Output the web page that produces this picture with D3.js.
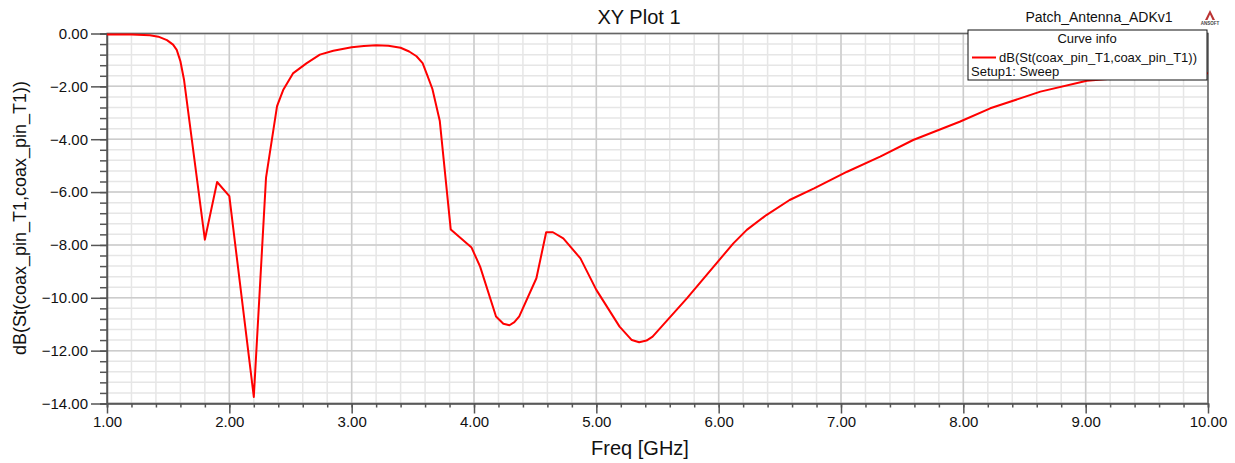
<!DOCTYPE html>
<html><head><meta charset="utf-8">
<script src="https://cdn.jsdelivr.net/npm/d3@7"></script>
<style>body{margin:0;background:#fff}svg{display:block;font-family:"Liberation Sans",Arial,sans-serif}</style>
</head><body><svg id="c" width="1235" height="463"></svg>
<script>
const freq = [1.0,1.2,1.35,1.42,1.49,1.54,1.57,1.6,1.63,1.8,1.9,2.0,2.2,2.3,2.39,2.44,2.52,2.63,2.74,2.85,3.0,3.1,3.2,3.3,3.4,3.47,3.53,3.58,3.62,3.66,3.72,3.81,3.98,4.05,4.18,4.24,4.29,4.33,4.37,4.51,4.59,4.645,4.73,4.87,5.0,5.19,5.29,5.35,5.41,5.46,5.74,6.12,6.23,6.39,6.58,6.78,7.05,7.32,7.59,7.97,8.22,8.63,9.01,9.5,10.0];
const dB = [-0.04,-0.04,-0.07,-0.12,-0.25,-0.42,-0.62,-1.05,-1.76,-7.8,-5.62,-6.15,-13.75,-5.45,-2.75,-2.14,-1.51,-1.13,-0.8,-0.65,-0.52,-0.47,-0.44,-0.46,-0.54,-0.68,-0.86,-1.12,-1.6,-2.1,-3.3,-7.42,-8.1,-8.82,-10.71,-10.98,-11.04,-10.92,-10.7,-9.26,-7.52,-7.52,-7.75,-8.51,-9.7,-11.09,-11.6,-11.68,-11.62,-11.47,-10.02,-7.94,-7.43,-6.87,-6.3,-5.86,-5.23,-4.66,-4.03,-3.34,-2.83,-2.2,-1.79,-1.6,-1.5];
const xTicks = [1,2,3,4,5,6,7,8,9,10];
const yTicks = [0,-2,-4,-6,-8,-10,-12,-14];
const title = "XY Plot 1";
const projectName = "Patch_Antenna_ADKv1";
const xLabel = "Freq [GHz]";
const yLabel = "dB(St(coax_pin_T1,coax_pin_T1))";
const legendTitle = "Curve info";
const seriesName = "dB(St(coax_pin_T1,coax_pin_T1))";
const setupName = "Setup1: Sweep";

const svg = d3.select("#c");
const L = 107, R = 1208, T = 33.5, B = 403.5;
const x = d3.scaleLinear().domain([1,10]).range([L,R]);
const y = d3.scaleLinear().domain([-14,0]).range([B,T]);
const fmt = v => d3.format(".2f")(v).replace("-","\u2212");

// grid
const xMinor = d3.range(1,10.0001,0.2).map(v=>+v.toFixed(2));
const yMinor = d3.range(-14,0.0001,0.4).map(v=>+v.toFixed(2));
const g = svg.append("g");
g.selectAll(".vm").data(xMinor).join("line").attr("x1",d=>x(d)).attr("x2",d=>x(d)).attr("y1",T).attr("y2",B).attr("stroke","#e6e6e6").attr("stroke-width",1.5);
g.selectAll(".hm").data(yMinor).join("line").attr("y1",d=>y(d)).attr("y2",d=>y(d)).attr("x1",L).attr("x2",R).attr("stroke","#e6e6e6").attr("stroke-width",1.5);
g.selectAll(".vM").data(xTicks).join("line").attr("x1",d=>x(d)).attr("x2",d=>x(d)).attr("y1",T).attr("y2",B).attr("stroke","#cccccc").attr("stroke-width",1.5);
g.selectAll(".hM").data(yTicks).join("line").attr("y1",d=>y(d)).attr("y2",d=>y(d)).attr("x1",L).attr("x2",R).attr("stroke","#cccccc").attr("stroke-width",1.5);

// frame
svg.append("rect").attr("x",L).attr("y",T).attr("width",R-L).attr("height",B-T).attr("fill","none").attr("stroke","#666").attr("stroke-width",1.5);

// axes
const xAx = svg.append("g").attr("transform",`translate(0,${B})`)
  .call(d3.axisBottom(x).tickValues(xMinor).tickFormat("").tickSize(4));
xAx.select(".domain").attr("stroke","#555").attr("stroke-width",1.5);
xAx.selectAll(".tick line").attr("stroke","#555").attr("stroke-width",1.5);
const xAx2 = svg.append("g").attr("transform",`translate(0,${B})`)
  .call(d3.axisBottom(x).tickValues(xTicks).tickFormat(fmt).tickSize(10).tickPadding(4));
xAx2.select(".domain").remove();
xAx2.selectAll(".tick line").attr("stroke","#555").attr("stroke-width",1.5);
xAx2.selectAll("text").attr("font-size",15).attr("fill","#111").attr("font-family","Liberation Sans, Arial, sans-serif").attr("dy","0.75em").attr("y",12);

const yAx = svg.append("g").attr("transform",`translate(${L},0)`)
  .call(d3.axisLeft(y).tickValues(yMinor).tickFormat("").tickSize(7));
yAx.select(".domain").attr("stroke","#555").attr("stroke-width",1.5);
yAx.selectAll(".tick line").attr("stroke","#555").attr("stroke-width",1.5);
const yAx2 = svg.append("g").attr("transform",`translate(${L},0)`)
  .call(d3.axisLeft(y).tickValues(yTicks).tickFormat(fmt).tickSize(16).tickPadding(3));
yAx2.select(".domain").remove();
yAx2.selectAll(".tick line").attr("stroke","#555").attr("stroke-width",1.5);
yAx2.selectAll("text").attr("font-size",15).attr("fill","#111").attr("font-family","Liberation Sans, Arial, sans-serif");

// curve
const data = freq.map((f,i)=>[f,dB[i]]);
svg.append("path").datum(data).attr("fill","none").attr("stroke","#ff0000").attr("stroke-width",2).attr("stroke-linejoin","round")
  .attr("d", d3.line().x(d=>x(d[0])).y(d=>y(d[1])));

// titles
svg.append("text").attr("x",639).attr("y",24).attr("text-anchor","middle").attr("font-size",20).attr("fill","#111").text(title);
svg.append("text").attr("x",640).attr("y",455).attr("text-anchor","middle").attr("font-size",20).attr("fill","#111").text(xLabel);
svg.append("text").attr("transform","translate(26,218) rotate(-90)").attr("text-anchor","middle").attr("font-size",18).attr("fill","#111").text(yLabel);
svg.append("text").attr("x",1099).attr("y",22).attr("text-anchor","middle").attr("font-size",14).attr("fill","#111").text(projectName);

// logo
const lg = svg.append("g").attr("transform","translate(1210,10)");
lg.append("path").attr("d","M0,0 L-5,10 L-2.5,10 L0,4.5 L2.5,10 L5,10 Z").attr("fill","#b33");
lg.append("text").attr("x",0).attr("y",15).attr("text-anchor","middle").attr("font-size",4.5).attr("font-weight","bold").attr("fill","#444").text("ANSOFT");

// legend
const lgd = svg.append("g");
lgd.append("rect").attr("x",968).attr("y",30).attr("width",239).attr("height",50).attr("fill","#fff").attr("stroke","#111").attr("stroke-width",1);
lgd.append("text").attr("x",1087).attr("y",43).attr("text-anchor","middle").attr("font-size",13).attr("fill","#111").text(legendTitle);
lgd.append("line").attr("x1",972).attr("x2",996).attr("y1",57.5).attr("y2",57.5).attr("stroke","#ff0000").attr("stroke-width",2);
lgd.append("text").attr("x",999).attr("y",62).attr("font-size",13).attr("fill","#111").text(seriesName);
lgd.append("text").attr("x",971).attr("y",76).attr("font-size",13).attr("fill","#111").text(setupName);
</script></body></html>
